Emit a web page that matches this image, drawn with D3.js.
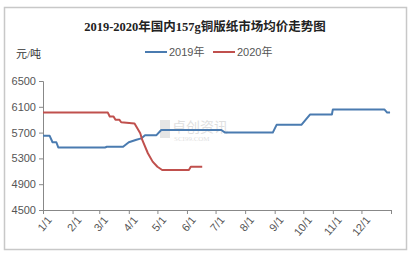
<!DOCTYPE html>
<html>
<head>
<meta charset="utf-8">
<script src="https://cdn.jsdelivr.net/npm/d3@7"></script>
<style>
	body { margin: 0; background: #fff; }
	text { font-family: "Liberation Serif", "Noto Sans CJK SC", serif; }
</style>
</head>
<body>
<svg id="chart"></svg>
<script>
// Graph Dimensions
const width = 411;
const height = 254;

// plot area margins
const margin = {
	top: 81,
	right: 20,
	bottom: 44,
	left: 43,
};

const innerWidth = width - margin.left - margin.right;
const innerHeight = height - margin.top - margin.bottom;

// 2019 price (dates as month-day)
const dates2019 = ["01-01", "01-08", "01-11", "01-15", "01-17", "03-07", "03-09", "03-26", "04-01", "04-09", "04-14", "04-18", "04-30", "05-05", "07-07", "07-11", "08-30", "09-03", "09-29", "10-08", "10-31", "11-01", "12-25", "12-28", "12-31"];
const prices2019 = [5650, 5650, 5550, 5550, 5470, 5470, 5480, 5480, 5550, 5590, 5610, 5660, 5660, 5740, 5740, 5700, 5700, 5820, 5820, 5980, 5980, 6060, 6060, 6010, 6010];

// 2020 price
const dates2020 = ["01-01", "03-10", "03-12", "03-16", "03-18", "03-22", "03-24", "04-07", "04-13", "04-15", "04-21", "04-26", "05-01", "05-06", "06-03", "06-05", "06-17"];
const prices2020 = [6010, 6010, 5950, 5950, 5900, 5900, 5860, 5840, 5690, 5590, 5380, 5250, 5170, 5120, 5120, 5170, 5170];

const yTicks = [4500, 4900, 5300, 5700, 6100, 6500];
const monthLabels = ["1/1", "2/1", "3/1", "4/1", "5/1", "6/1", "7/1", "8/1", "9/1", "10/1", "11/1", "12/1"];

const seriesNames = ["2019年", "2020年"];
const colors = ["#4a7bb0", "#c0504d"];

const parseDay = d3.timeParse("%Y-%m-%d");
const toPoints = (dates, prices) => dates.map((d, i) => ({ date: parseDay("2019-" + d), value: prices[i] }));

const series = [toPoints(dates2019, prices2019), toPoints(dates2020, prices2020)];

const svg = d3.select("#chart")
	.attr("width", width)
	.attr("height", height);

// outer frame
svg.append("rect")
	.attr("x", 4.5)
	.attr("y", 7.5)
	.attr("width", 402)
	.attr("height", 242)
	.attr("fill", "#fff")
	.attr("stroke", "#c8c8c8")
	.attr("stroke-width", 1.5);

// title
svg.append("text")
	.attr("x", 205)
	.attr("y", 31)
	.attr("text-anchor", "middle")
	.style("font-size", "12.5px")
	.style("font-weight", "bold")
	.attr("fill", "#222")
	.text("2019-2020年国内157g铜版纸市场均价走势图");

// unit
svg.append("text")
	.attr("x", 16)
	.attr("y", 58)
	.style("font-size", "11px")
	.attr("fill", "#333")
	.text("元/吨");

// legend
const legend = svg.append("g");
seriesNames.forEach((name, i) => {
	const lx = 145 + i * 68;
	legend.append("line")
		.attr("x1", lx).attr("x2", lx + 22)
		.attr("y1", 52).attr("y2", 52)
		.attr("stroke", colors[i])
		.attr("stroke-width", 2);
	legend.append("text")
		.attr("x", lx + 24)
		.attr("y", 56)
		.style("font-size", "11px")
		.style("font-family", "Liberation Sans, Noto Sans CJK SC, sans-serif")
		.attr("fill", "#555")
		.text(name);
});

const g = svg.append("g")
	.attr("transform", `translate(${margin.left}, ${margin.top})`);

// X AXIS
const xScale = d3.scaleTime()
	.domain([parseDay("2019-01-01"), parseDay("2020-01-01")])
	.range([0, innerWidth]);

// Y AXIS
const yScale = d3.scaleLinear()
	.domain([4500, 6500])
	.range([innerHeight, 0]);

// watermark
const wm = g.append("g").attr("opacity", 0.3);
wm.append("rect")
	.attr("x", 117).attr("y", 39)
	.attr("width", 10).attr("height", 18)
	.attr("fill", "#aaa");
wm.append("text")
	.attr("x", 129).attr("y", 51)
	.style("font-size", "14px")
	.attr("fill", "#999")
	.text("卓创资讯");
wm.append("text")
	.attr("x", 131).attr("y", 60)
	.style("font-size", "7px")
	.attr("fill", "#999")
	.text("SCI99.COM");

const yAxis = g.append("g")
	.call(d3.axisLeft(yScale).tickValues(yTicks).tickFormat(d3.format("d")).tickSize(4).tickPadding(3));

yAxis.selectAll("text")
	.style("font-size", "11px")
	.style("font-family", "Liberation Sans, sans-serif")
	.attr("fill", "#555");

const monthTicks = d3.timeMonth.range(parseDay("2019-01-01"), parseDay("2020-01-02"));

const xAxis = g.append("g")
	.attr("transform", `translate(0, ${innerHeight})`)
	.call(d3.axisBottom(xScale)
		.tickValues(monthTicks)
		.tickSize(4)
		.tickFormat((d, i) => monthLabels[i] || ""));

xAxis.selectAll("text")
	.style("font-size", "11px")
	.style("font-family", "Liberation Sans, sans-serif")
	.attr("fill", "#555")
	.attr("text-anchor", "end")
	.attr("dx", "-0.2em")
	.attr("dy", "0.6em")
	.attr("transform", "rotate(-50)");

g.selectAll(".domain, .tick line").attr("stroke", "#888");

// lines
const line = d3.line()
	.x((d) => xScale(d.date))
	.y((d) => yScale(d.value));

g.selectAll(".series")
	.data(series)
	.join("path")
	.attr("class", "series")
	.attr("d", line)
	.attr("fill", "none")
	.attr("stroke", (d, i) => colors[i])
	.attr("stroke-width", 2)
	.attr("stroke-linejoin", "round");
</script>
</body>
</html>
